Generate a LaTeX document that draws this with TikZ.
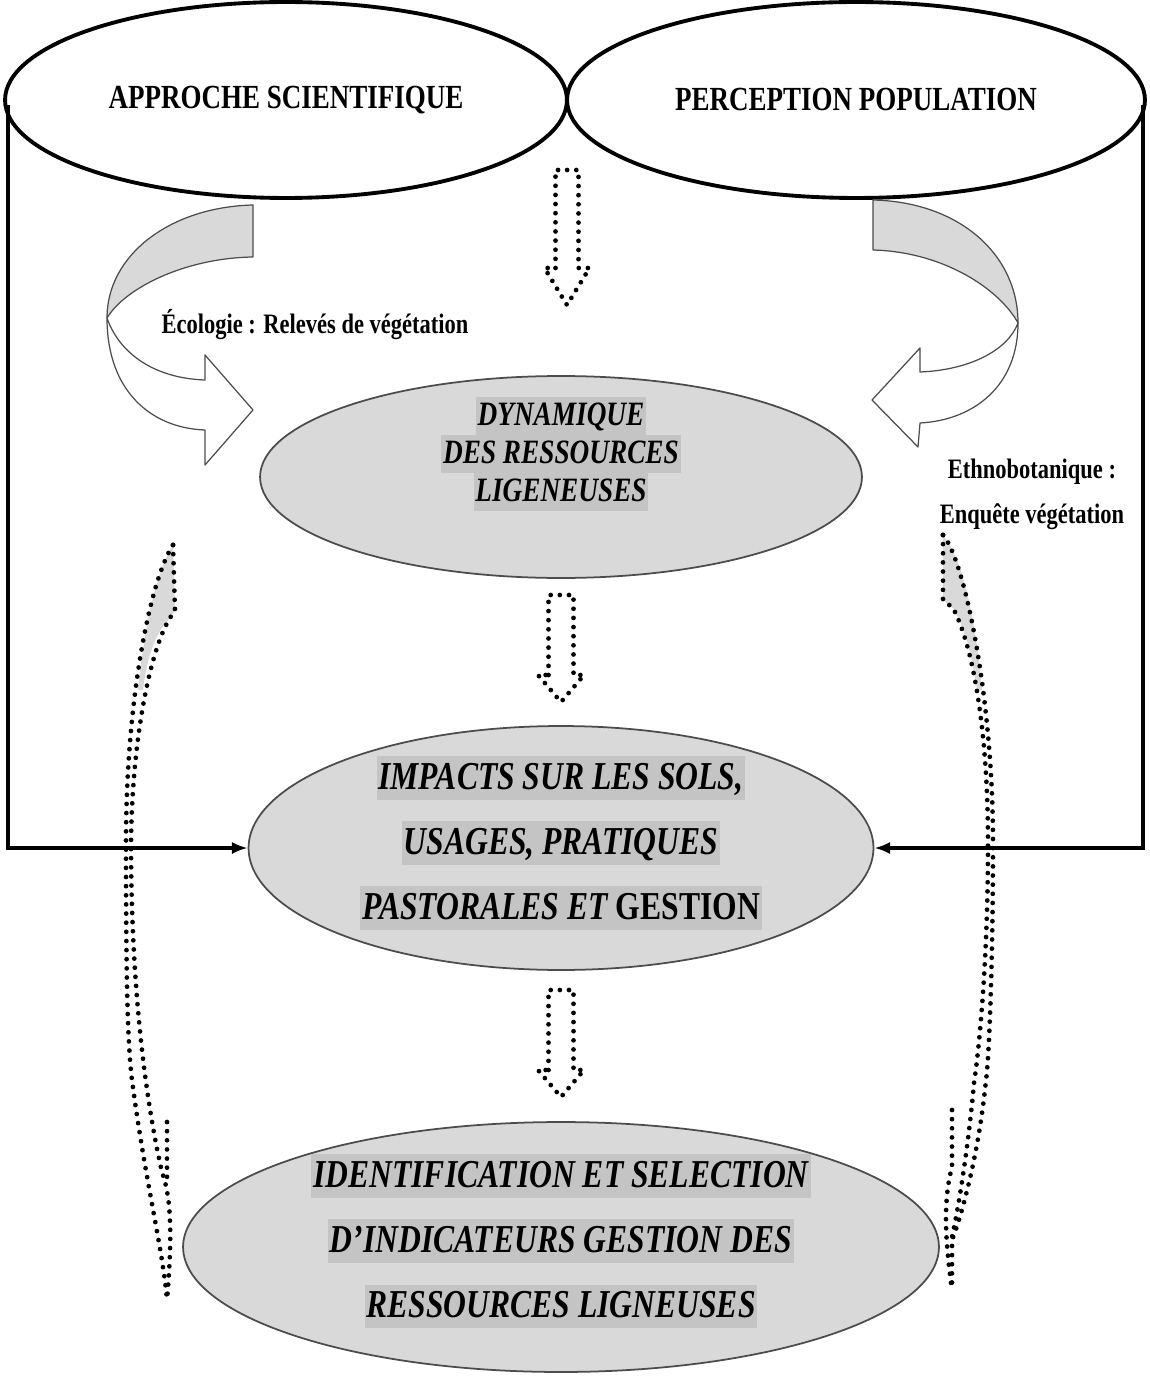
\documentclass[tikz,border=0pt]{standalone}
\usepackage{fontspec}
\setmainfont{Liberation Serif}[FakeStretch=0.8]
\usetikzlibrary{shapes.geometric,arrows.meta}
\definecolor{ellfill}{gray}{0.85}
\definecolor{hlc}{gray}{0.77}
\definecolor{edgec}{gray}{0.3}
\newcommand\hlline[1]{{\setlength{\fboxsep}{1pt}\colorbox{hlc}{\rule[-0.22em]{0pt}{1.0em}#1}}}
\newcommand\dotblock[6]{%
  \draw[dotline] ({#1-#5},#3) -- ({#1-#5},#2) -- ({#1+#5},#2) -- ({#1+#5},#3) -- ({#1+#6},#3) -- (#1,#4) -- ({#1-#6},#3) -- cycle;}
\tikzset{
  topell/.style={ellipse, draw, line width=2.2pt, inner sep=0pt},
  grayell/.style={ellipse, draw=edgec, fill=ellfill, line width=1pt, inner sep=0pt},
  frame/.style={line width=1.8pt, -{Latex[length=9pt,width=7pt]}},
  dotline/.style={line width=2.7pt, dash pattern=on 0pt off 5.2pt, line cap=round},
  bigarrow/.style={draw=edgec, line width=0.7pt, line join=round},
  lbl/.style={font=\bfseries\fontsize{16}{25.6}\selectfont, align=center, inner sep=0pt},
  ttext/.style={align=center, inner sep=0pt},
}
\begin{document}
\begin{tikzpicture}[x=0.02cm,y=-0.02cm]
\useasboundingbox[fill=white] (0,0) rectangle (1149,1378);

% top ellipses
\node[topell, minimum width=11.24cm, minimum height=3.92cm] (A) at (286,100)
  {\bfseries\fontsize{19.2}{22}\selectfont APPROCHE SCIENTIFIQUE};
\node[topell, minimum width=11.56cm, minimum height=3.92cm] (P) at (856,100)
  {\bfseries\fontsize{19.2}{22}\selectfont PERCEPTION POPULATION};

% central ellipses
\node[grayell, minimum width=12.04cm, minimum height=4.04cm] (B) at (561,477) {};
\node[grayell, minimum width=12.5cm, minimum height=4.88cm] (C) at (561,848) {};
\node[grayell, minimum width=15.12cm, minimum height=5.0cm] (D) at (561,1247) {};

\node[ttext, font={\lineskiplimit=-30pt\bfseries\itshape\fontsize{19.4}{21.6}\selectfont}] (Bt) at (561,454)
  {\hlline{DYNAMIQUE}\\ \hlline{DES RESSOURCES}\\ \hlline{LIGENEUSES}};
\node[ttext, font={\lineskiplimit=-30pt\bfseries\itshape\fontsize{22.5}{37}\selectfont}] (Ct) at (561,843)
  {\hlline{IMPACTS SUR LES SOLS,}\\ \hlline{USAGES, PRATIQUES}\\ \hlline{PASTORALES ET \upshape GESTION}};
\node[ttext, font={\lineskiplimit=-30pt\bfseries\itshape\fontsize{22.5}{37}\selectfont}] (Dt) at (561,1241)
  {\hlline{IDENTIFICATION ET SELECTION}\\ \hlline{D’INDICATEURS GESTION DES}\\ \hlline{RESSOURCES LIGNEUSES}};

% frame connectors
\coordinate (lt) at (8,105);
\coordinate (rt) at (1143,105);
\draw[frame] (lt) |- (C.west);
\draw[frame] (rt) |- (C.east);

% labels
\node[lbl] (L1) at (315,325) {Écologie : Relevés de végétation};
\node[lbl] (L2) at (1032,494) {Ethnobotanique :\\Enquête végétation};

% curved block arrow left
\draw[bigarrow, fill=white] (107,318) .. controls (107,390) and (150,428) .. (205,430) -- (205,465) -- (253,410) -- (205,355) -- (205,380) .. controls (150,378) and (118,350) .. (107,318) -- cycle;
\draw[bigarrow, fill=ellfill] (253,205) .. controls (170,207) and (107,255) .. (107,318) .. controls (125,288) and (185,258) .. (253,257) -- cycle;

% curved block arrow right
\draw[bigarrow, fill=white] (1018,323) .. controls (1018,385) and (975,420) .. (920,423) -- (918,447) -- (872,400) -- (920,348) -- (920,372) .. controls (970,370) and (1008,350) .. (1018,323) -- cycle;
\draw[bigarrow, fill=ellfill] (873,200) .. controls (960,202) and (1018,255) .. (1018,323) .. controls (1000,290) and (945,252) .. (873,250) -- cycle;

% dotted block arrows
\dotblock{567}{170}{268}{305}{11.5}{22.5}
\dotblock{561}{595}{675}{702}{12.5}{23}
\dotblock{561}{990}{1070}{1097}{12.5}{23}

% left dotted curved band
\fill[ellfill] (173,545) .. controls (158,568) and (145,620) .. (138,690) -- (143,690) .. controls (148,650) and (158,630) .. (170,618) -- (175,610) -- cycle;
\draw[dotline] (173,545) .. controls (150,580) and (126,700) .. (126,843) .. controls (126,960) and (127,1040) .. (132,1080) .. controls (145,1180) and (163,1250) .. (167,1300);
\draw[dotline] (173,545) -- (175,610) -- (170,618) .. controls (150,650) and (132,740) .. (131,843) .. controls (131,960) and (141,1080) .. (162,1172) .. controls (172,1200) and (172,1240) .. (167,1300);
\draw[dotline] (167,1122) -- (167,1178);

% right dotted curved band
\fill[ellfill] (943,535) .. controls (962,558) and (975,615) .. (982,690) -- (977,690) .. controls (970,640) and (960,620) .. (953,608) -- (943,600) -- cycle;
\draw[dotline] (943,535) .. controls (965,560) and (993,700) .. (993,843) .. controls (993,960) and (989,1060) .. (986,1080) .. controls (978,1160) and (960,1220) .. (952,1240) -- (952,1290);
\draw[dotline] (943,535) -- (943,600) -- (953,608) .. controls (975,650) and (988,740) .. (988,843) .. controls (988,960) and (979,1050) .. (974,1083) .. controls (968,1150) and (958,1210) .. (952,1237);
\draw[dotline] (952,1110) -- (952,1167) .. controls (943,1200) and (945,1240) .. (952,1290);
\end{tikzpicture}
\end{document}
